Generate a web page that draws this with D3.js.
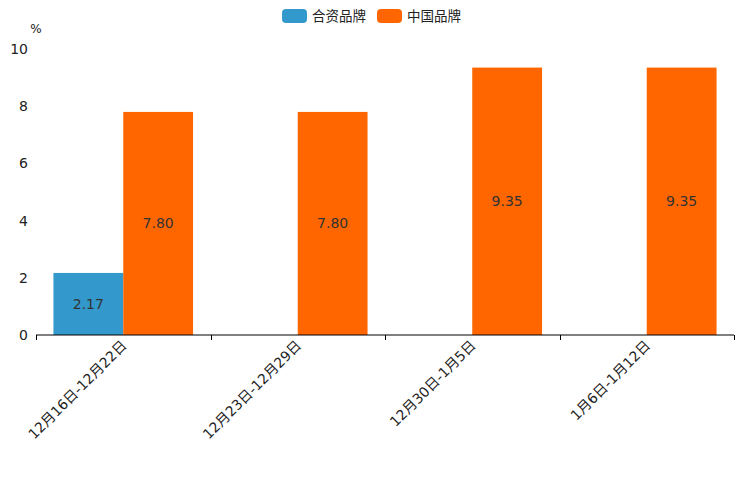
<!DOCTYPE html>
<html><head><meta charset="utf-8">
<script src="https://cdn.jsdelivr.net/npm/d3@7"></script>
<style>body{margin:0;background:#fff}svg{display:block;font-family:"DejaVu Sans","Noto Sans CJK SC",sans-serif}</style>
</head><body>
<svg id="c" width="744" height="496"></svg>
<script>
const categories = ["12月16日-12月22日","12月23日-12月29日","12月30日-1月5日","1月6日-1月12日"];
const seriesNames = ["合资品牌","中国品牌"];
const jvValues = [2.17, null, null, null];
const cnValues = [7.80, 7.80, 9.35, 9.35];
const yTicks = [0,2,4,6,8,10];
const colors = ["#3399cc","#ff6600"];

const svg = d3.select("#c");
const m = {l:36, r:10, t:49, b:161};
const W = 744, H = 496;
const x = d3.scaleBand().domain(categories).range([m.l, W - m.r]).paddingInner(0).paddingOuter(0);
const xs = d3.scaleBand().domain(seriesNames).range([0, x.bandwidth()]).paddingInner(0).paddingOuter(0.25);
const y = d3.scaleLinear().domain([0,10]).range([H - m.b, m.t]);

const series = [jvValues, cnValues];
series.forEach((vals, si) => {
  const g = svg.append("g");
  categories.forEach((c, i) => {
    const v = vals[i];
    if (v == null) return;
    const bx = x(c) + xs(seriesNames[si]);
    g.append("rect").attr("x", bx).attr("y", y(v)).attr("width", xs.bandwidth()).attr("height", y(0) - y(v)).attr("fill", colors[si]);
    g.append("text").attr("x", bx + xs.bandwidth()/2).attr("y", (y(v)+y(0))/2).attr("dy","0.35em")
      .attr("text-anchor","middle").attr("font-size",14).attr("fill","#333").text(v.toFixed(2));
  });
});

// y axis labels (no line)
svg.append("g").selectAll("text").data(yTicks).join("text")
  .attr("x", 28).attr("y", d => y(d)).attr("dy","0.35em").attr("text-anchor","end")
  .attr("font-size",14).attr("fill","#222").text(d => d);
svg.append("text").attr("x", 36).attr("y", 29).attr("dy","0.35em").attr("text-anchor","middle").attr("font-size",12).attr("fill","#222").text("%");

// x axis
const xa = svg.append("g");
xa.append("line").attr("x1", m.l).attr("x2", W - m.r).attr("y1", y(0)).attr("y2", y(0)).attr("stroke","#000").attr("stroke-width",1);
const tickXs = categories.map(c => x(c)).concat([x(categories[categories.length-1]) + x.bandwidth()]);
xa.selectAll("line.t").data(tickXs).join("line").attr("class","t")
  .attr("x1", d => Math.round(d)+0.5).attr("x2", d => Math.round(d)+0.5).attr("y1", y(0)).attr("y2", y(0)+5).attr("stroke","#000");
xa.selectAll("text").data(categories).join("text")
  .attr("transform", d => `translate(${x(d)+x.bandwidth()/2+1},${y(0)+8}) rotate(-45)`)
  .attr("text-anchor","end").attr("dy","0.35em").attr("font-size",14).attr("fill","#222").text(d => d);

// legend
const lg = svg.append("g");
const lx = [282, 377];
seriesNames.forEach((n, i) => {
  lg.append("rect").attr("x", lx[i]).attr("y", 9).attr("width", 25).attr("height", 14).attr("rx", 4).attr("fill", colors[i]);
  lg.append("text").attr("x", lx[i] + 30).attr("y", 16).attr("dy","0.35em").attr("font-size",13.5).attr("fill","#222").text(n);
});
</script>
</body></html>
